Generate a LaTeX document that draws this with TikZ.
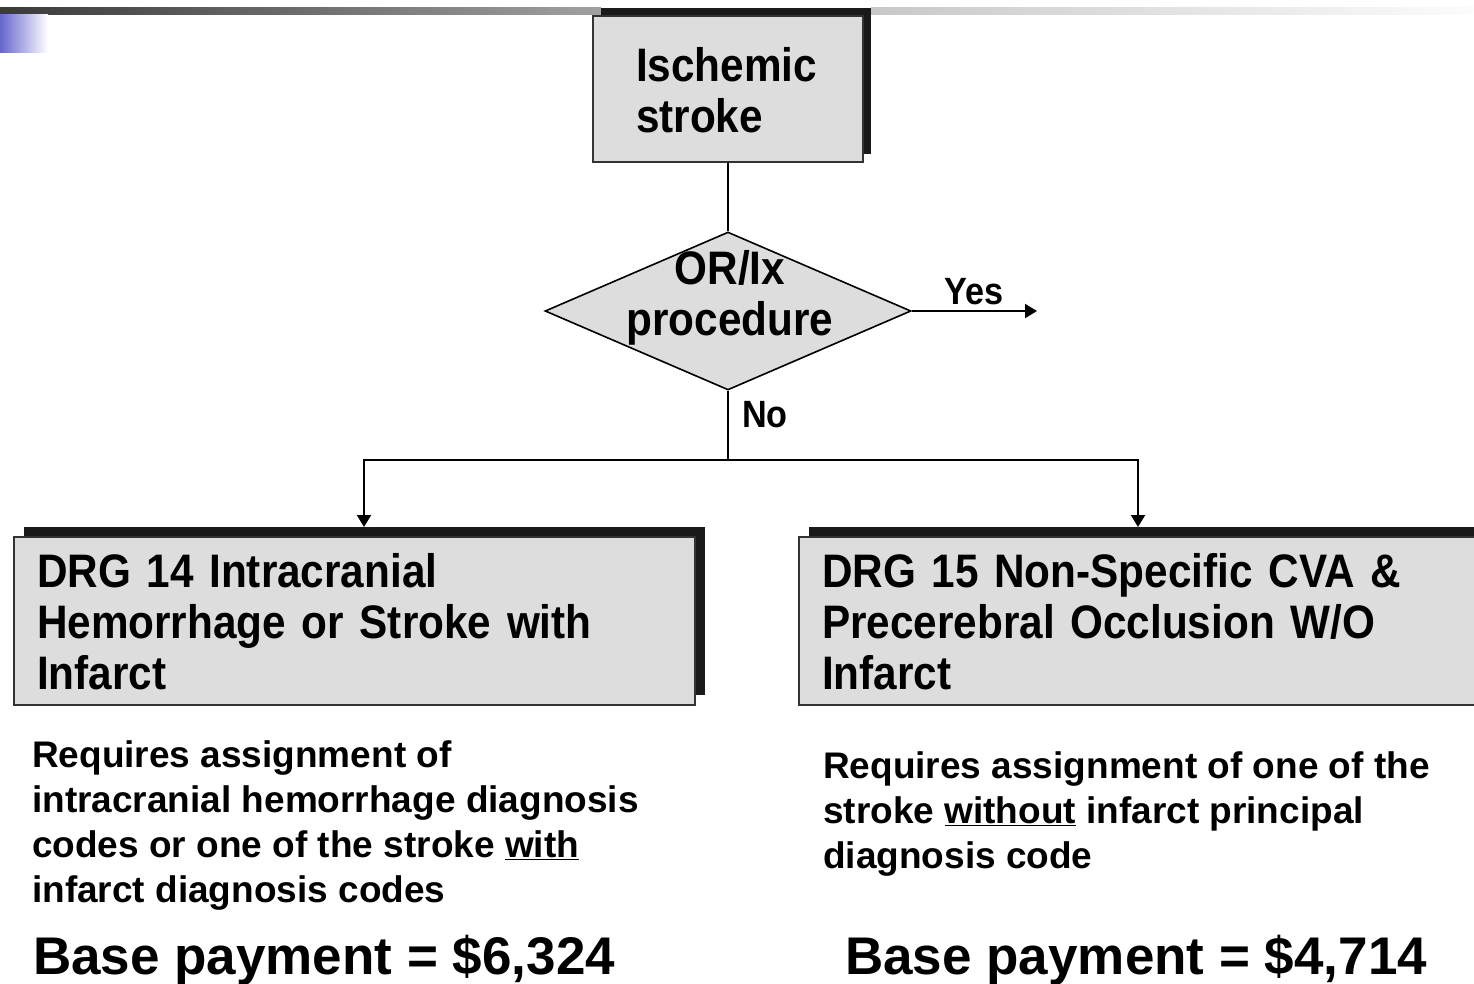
\documentclass[tikz,border=0pt]{standalone}
\usepackage{fontspec}
\setmainfont{Liberation Sans}
\newfontfamily\condsf{Liberation Sans}[FakeStretch=0.9,WordSpace=0.8]
\usetikzlibrary{shapes.geometric,arrows.meta,shadows}
\definecolor{boxgray}{HTML}{DDDDDD}
\definecolor{edgegray}{HTML}{333333}
\definecolor{shadowblack}{HTML}{1A1A1A}
\definecolor{barleft}{HTML}{3A3A3A}
\definecolor{barmid}{HTML}{A0A0A0}
\definecolor{barright}{HTML}{C8C8C8}
\definecolor{barend}{HTML}{FCFCFC}
\definecolor{cornerblue}{HTML}{6666CC}

\begin{document}
\begin{tikzpicture}[x=1pt,y=-1pt,
  boxfont/.style={font=\condsf\bfseries\fontsize{47}{51}\selectfont},
  labelfont/.style={font=\condsf\bfseries\fontsize{38}{40}\selectfont},
  descfont/.style={font=\bfseries\fontsize{37}{45}\selectfont},
  payfont/.style={font=\bfseries\fontsize{53}{60}\selectfont},
  shadowed/.style={drop shadow={shadow xshift=#1, shadow yshift=#1, fill=shadowblack, opacity=1}},
  drgbox/.style={boxfont, draw=edgegray, line width=1.3pt, fill=boxgray,
    align=left, inner ysep=0pt, minimum height=168pt, minimum width=681pt,
    inner xsep=23pt, text width=635pt, shadowed=10pt},
  topbox/.style={boxfont, draw=edgegray, line width=1.3pt, fill=boxgray,
    align=left, inner ysep=0pt, minimum height=146pt, minimum width=270pt,
    inner xsep=43pt, text width=184pt, shadowed=8pt},
  decision/.style={diamond, draw=black, line width=1.6pt, fill=boxgray,
    minimum width=366pt, minimum height=158pt, inner sep=0pt},
  link/.style={draw=black, line width=2pt},
  arrow/.style={link, -{Triangle[length=12pt,width=14pt]}},
  desc/.style={descfont, align=left, anchor=base west, inner sep=0pt},
  pay/.style={payfont, anchor=base west, inner sep=0pt}
]
\useasboundingbox (0,0) rectangle (1474,983);
\fill[white] (0,0) rectangle (1474,983);

% header bar and corner accent
\shade[left color=barleft, right color=barmid] (0,7) rectangle (601,14);
\shade[left color=barright, right color=barend] (871,7) rectangle (1474,14);
\shade[left color=cornerblue, right color=white] (0,14) rectangle (48,52);

% boxes
\node[topbox] (isch) at (728,89) {\strut Ischemic\\stroke};
\node[decision] (q) at (728,311) {};
\node[boxfont, align=center, inner sep=0pt] (qtext) at (730,298) {OR/Ix\\procedure};
\node[drgbox] (drg14) at (354.5,621)
  {\strut DRG 14 Intracranial\\Hemorrhage or Stroke with\\Infarct};
\node[drgbox] (drg15) at (1139.5,621)
  {\strut DRG 15 Non-Specific CVA \&\\Precerebral Occlusion W/O\\Infarct};

% connectors
\coordinate (yesend) at (1037,311);
\coordinate (split) at (728,460);
\coordinate (lefttip) at (364,527);
\coordinate (righttip) at (1138,527);
\draw[link] (isch.south) -- (q.north);
\draw[arrow] (q.east) -- (yesend);
\draw[link] (q.south) -- (split);
\draw[arrow] (split) -| (lefttip);
\draw[arrow] (split) -| (righttip);
\node[labelfont, inner sep=0pt] (yes) at (974,292) {Yes};
\node[labelfont, inner sep=0pt] (no) at (765,415) {No};

% descriptions (anchored on the baseline of their last line)
\node[desc] (d14) at (32,902)
  {Requires assignment of\\intracranial hemorrhage diagnosis\\codes or one of the stroke \underline{with}\\infarct diagnosis codes};
\node[desc] (d15) at (823,868)
  {Requires assignment of one of the\\stroke \underline{without} infarct principal\\diagnosis code};
\node[pay] (p14) at (33,974) {Base payment = \$6,324};
\node[pay] (p15) at (845,974) {Base payment = \$4,714};
\end{tikzpicture}
\end{document}
